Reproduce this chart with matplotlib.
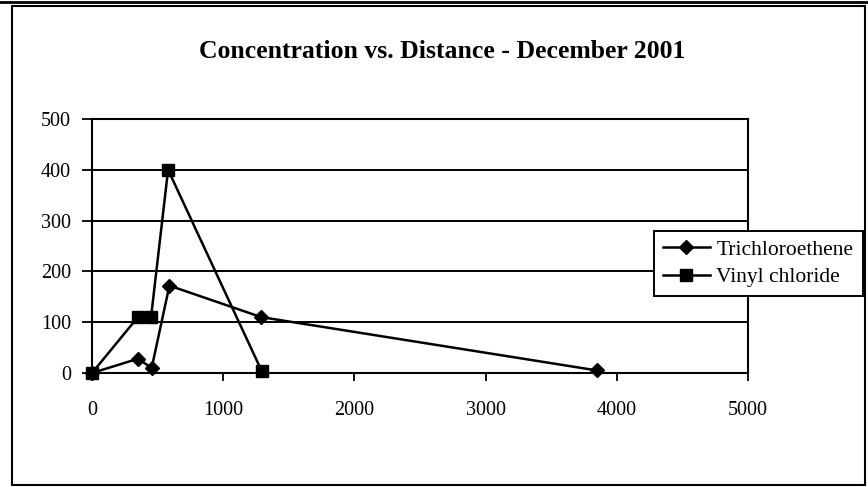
import matplotlib
matplotlib.use('Agg')
import matplotlib.pyplot as plt
from matplotlib.patches import Rectangle

# data
dist_tce = [0, 350, 455, 590, 1290, 3850]
conc_tce = [0, 28, 10, 172, 110, 5]
dist_vc = [0, 350, 450, 580, 1295]
conc_vc = [0, 110, 110, 400, 3]
x_ticks = [0, 1000, 2000, 3000, 4000, 5000]
y_ticks = [0, 100, 200, 300, 400, 500]

plt.rcParams['font.family'] = ['Liberation Serif', 'DejaVu Serif']

fig = plt.figure(figsize=(8.68, 4.87), dpi=100)
ax = fig.add_axes([92/868, 1 - 373/487, (748 - 92)/868, (373 - 119)/487])

ax.plot(dist_tce, conc_tce, color='black', lw=1.8, marker='D', markersize=7,
        label='Trichloroethene', clip_on=False, zorder=3)
ax.plot(dist_vc, conc_vc, color='black', lw=1.8, marker='s', markersize=8,
        label='Vinyl chloride', clip_on=False, zorder=3)

ax.set_xlim(0, 5000)
ax.set_ylim(0, 500)
ax.set_xticks(x_ticks)
ax.set_yticks(y_ticks)
ax.yaxis.grid(True, color='black', lw=1.4)
ax.set_axisbelow(True)
for s in ax.spines.values():
    s.set_linewidth(1.5)
    s.set_color('black')
ax.tick_params(axis='x', direction='out', length=6, width=1.3, pad=14, labelsize=14.5)
ax.tick_params(axis='y', direction='out', length=7, width=1.3, pad=8, labelsize=14.5)

fig.text(442/868, 1 - 58/487, 'Concentration vs. Distance - December 2001',
         ha='center', va='baseline', fontsize=18.5, fontweight='bold')

leg = ax.legend(loc='center', bbox_to_anchor=(654/868, 1 - 298/487, 209/868, 69/487),
                bbox_transform=fig.transFigure, mode='expand', fontsize=15.5,
                fancybox=False, framealpha=1, edgecolor='black', handlelength=2.2,
                handletextpad=0.3, borderaxespad=0, labelspacing=0.35)
leg.get_frame().set_linewidth(1.4)

# outer chart border
fig.patches.append(Rectangle((12/868, 1 - 485/487), 853/868, 479/487,
                             transform=fig.transFigure, fill=False,
                             edgecolor='black', lw=1.5))
fig.lines.append(plt.Line2D([0, 1], [1 - 1.5/487, 1 - 1.5/487],
                            transform=fig.transFigure, color='black', lw=2))

fig.savefig('out.png', dpi=100)
